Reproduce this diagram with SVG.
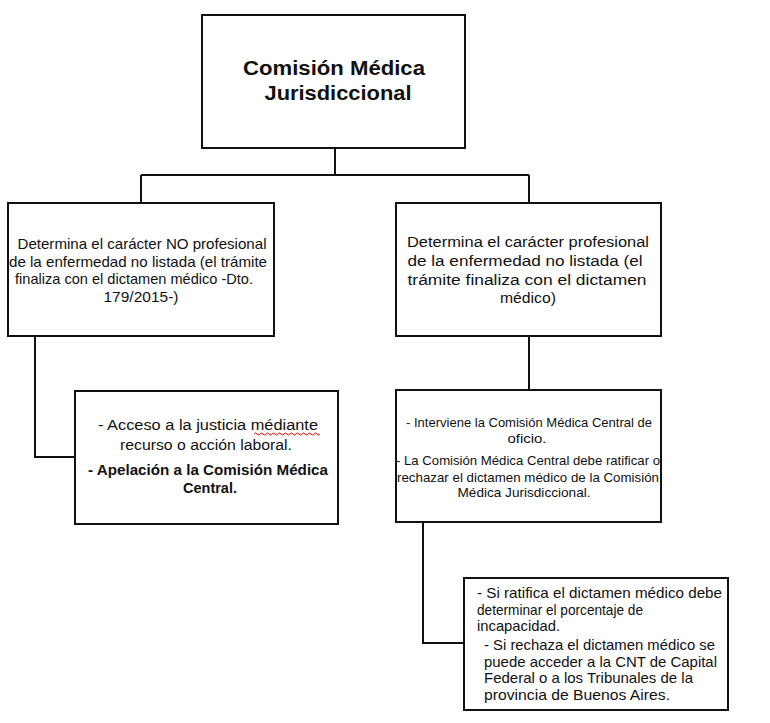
<svg xmlns="http://www.w3.org/2000/svg" width="770" height="723" viewBox="0 0 770 723">
<style>
.box{fill:#fff;stroke:#111;stroke-width:2}
.con{fill:none;stroke:#111;stroke-width:2}
text{font-family:"Liberation Sans",Arial,sans-serif;fill:#111;font-size:14.5px}
.c{text-anchor:middle}
.t{font-weight:bold;font-size:20px}
.b{font-weight:bold}
</style>
<rect width="770" height="723" fill="#fff"/>
<g id="connectors">
<path class="con" d="M335 148V175M141 175H529M141 175V203M529 175V203"/>
<path class="con" d="M35 336V457H75"/>
<path class="con" d="M529 336V390"/>
<path class="con" d="M423 522V643H464"/>
</g>
<g id="n0">
<rect class="box" x="202" y="15" width="263" height="133"/>
<text class="c t" x="334" y="75" textLength="182" lengthAdjust="spacingAndGlyphs">Comisión Médica</text>
<text class="c t" x="338" y="100" textLength="147" lengthAdjust="spacingAndGlyphs">Jurisdiccional</text>
</g>
<g id="n1">
<rect class="box" x="8" y="203" width="266" height="133"/>
<text class="c" x="142" y="249" textLength="249" lengthAdjust="spacingAndGlyphs">Determina el carácter NO profesional</text>
<text class="c" x="138" y="267" textLength="258" lengthAdjust="spacingAndGlyphs">de la enfermedad no listada (el trámite</text>
<text class="c" x="134" y="284" textLength="238" lengthAdjust="spacingAndGlyphs">finaliza con el dictamen médico -Dto.</text>
<text class="c" x="141" y="302" textLength="75" lengthAdjust="spacingAndGlyphs">179/2015-)</text>
</g>
<g id="n2">
<rect class="box" x="396" y="203" width="265" height="133"/>
<text class="c" x="528" y="247" textLength="242" lengthAdjust="spacingAndGlyphs" style="font-size:15.5px">Determina el carácter profesional</text>
<text class="c" x="525" y="266" textLength="235" lengthAdjust="spacingAndGlyphs" style="font-size:15.5px">de la enfermedad no listada (el</text>
<text class="c" x="527" y="285" textLength="239" lengthAdjust="spacingAndGlyphs" style="font-size:15.5px">trámite finaliza con el dictamen</text>
<text class="c" x="528" y="303" textLength="56" lengthAdjust="spacingAndGlyphs" style="font-size:15.5px">médico)</text>
</g>
<g id="n3">
<rect class="box" x="75" y="391" width="263" height="133"/>
<text class="c" x="208" y="430" textLength="220" lengthAdjust="spacingAndGlyphs" style="font-size:15.5px">- Acceso a la justicia médiante</text>
<path d="M254 434q1.5 -2 3 0t3 0t3 0t3 0t3 0t3 0t3 0t3 0t3 0t3 0t3 0t3 0t3 0t3 0t3 0t3 0t3 0t3 0t3 0t3 0t3 0t3 0" fill="none" stroke="#e00" stroke-width="1"/>
<text class="c" x="206" y="450" textLength="172" lengthAdjust="spacingAndGlyphs" style="font-size:15.5px">recurso o acción laboral.</text>
<text class="c b" x="208" y="475" textLength="240" lengthAdjust="spacingAndGlyphs" style="font-size:15.5px">- Apelación a la Comisión Médica</text>
<text class="c b" x="210" y="493" textLength="54" lengthAdjust="spacingAndGlyphs" style="font-size:15.5px">Central.</text>
</g>
<g id="n4">
<rect class="box" x="396" y="390" width="265" height="132"/>
<text class="c" x="529" y="427" textLength="246" lengthAdjust="spacingAndGlyphs" style="font-size:13.5px">- Interviene la Comisión Médica Central de</text>
<text class="c" x="527" y="443" textLength="39" lengthAdjust="spacingAndGlyphs" style="font-size:13.5px">oficio.</text>
<text class="c" x="528" y="465" textLength="264" lengthAdjust="spacingAndGlyphs" style="font-size:13.5px">- La Comisión Médica Central debe ratificar o</text>
<text class="c" x="528" y="482" textLength="262" lengthAdjust="spacingAndGlyphs" style="font-size:13.5px">rechazar el dictamen médico de la Comisión</text>
<text class="c" x="524" y="497" textLength="133" lengthAdjust="spacingAndGlyphs" style="font-size:13.5px">Médica Jurisdiccional.</text>
</g>
<g id="n5">
<rect class="box" x="464" y="578" width="264" height="132"/>
<text x="477" y="598" textLength="245" lengthAdjust="spacingAndGlyphs">- Si ratifica el dictamen médico debe</text>
<text x="477" y="615" textLength="166" lengthAdjust="spacingAndGlyphs">determinar el porcentaje de</text>
<text x="477" y="631" textLength="83" lengthAdjust="spacingAndGlyphs">incapacidad.</text>
<text x="484" y="650" textLength="231" lengthAdjust="spacingAndGlyphs">- Si rechaza el dictamen médico se</text>
<text x="484" y="667" textLength="233" lengthAdjust="spacingAndGlyphs">puede acceder a la CNT de Capital</text>
<text x="484" y="683" textLength="209" lengthAdjust="spacingAndGlyphs">Federal o a los Tribunales de la</text>
<text x="484" y="700" textLength="186" lengthAdjust="spacingAndGlyphs">provincia de Buenos Aires.</text>
</g>
</svg>
